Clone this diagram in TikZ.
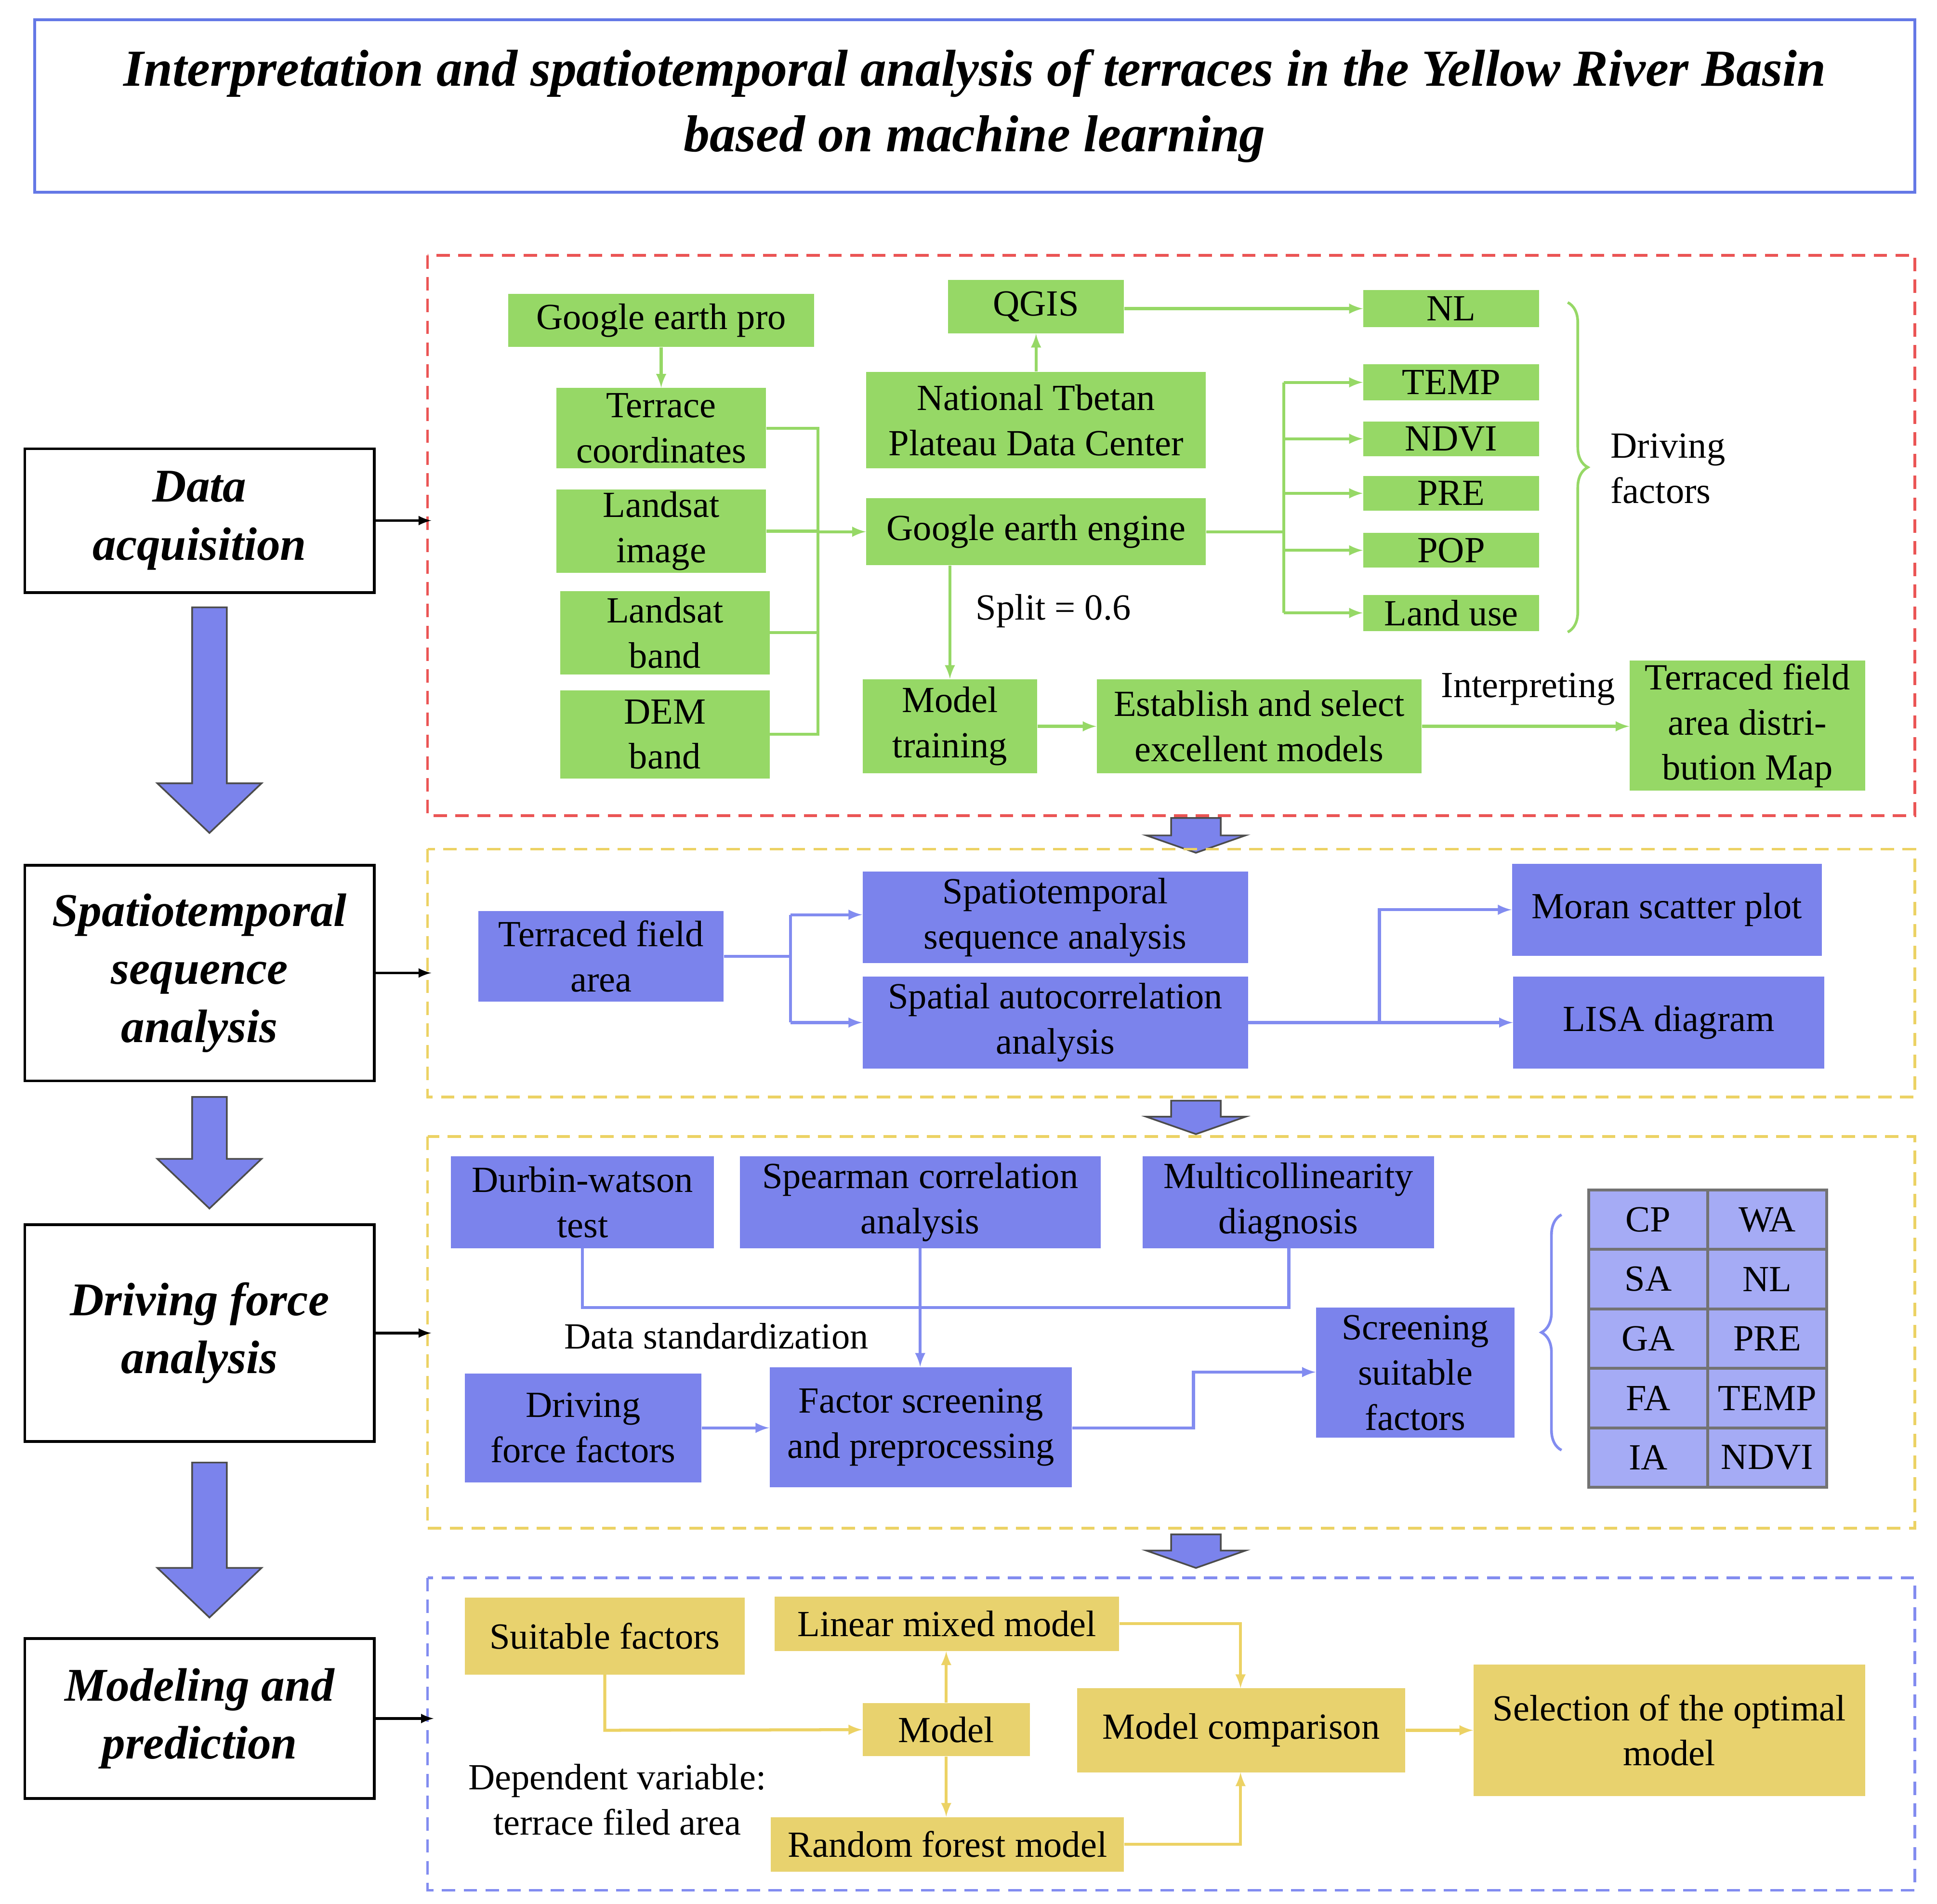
\documentclass[tikz,border=0pt]{standalone}
\usepackage{fontspec}
\setmainfont{Liberation Serif}
\usetikzlibrary{decorations.pathreplacing}
\definecolor{gf}{RGB}{150,216,102}
\definecolor{bf}{RGB}{123,131,236}
\definecolor{yf}{RGB}{232,210,110}
\definecolor{tf}{RGB}{165,171,245}
\definecolor{rd}{RGB}{235,85,85}
\definecolor{yd}{RGB}{236,210,100}
\definecolor{bd}{RGB}{130,140,240}
\definecolor{ttl}{RGB}{100,120,230}
\newcommand{\bx}[6]{\node[#1,minimum width={((#4)-(#2))*0.026cm},minimum height={((#5)-(#3))*0.026cm}] (#6) at ({((#2)+(#4))/2},{((#3)+(#5))/2})}
\tikzset{
 base/.style={inner sep=0pt,align=center,font=\fontsize{22}{27}\selectfont},
 gbx/.style={base,fill=gf},
 bbx/.style={base,fill=bf},
 ybx/.style={base,fill=yf},
 lb/.style={base,draw=black,line width=1.6pt,fill=white,font=\fontsize{28}{34.6}\selectfont\bfseries\itshape},
 gl/.style={draw=gf,line width=1.8pt,-latex},
 bl/.style={draw=bd,line width=1.8pt,-latex},
 yl/.style={draw=yd,line width=1.8pt,-latex},
 kl/.style={draw=black,line width=1.6pt,-latex},
 big/.style={fill=bf,draw=black!70,line width=1pt},
 reg/.style={dashed,line width=1.6pt,dash pattern=on 8pt off 5pt},
 txt/.style={base,inner sep=1pt},
 br/.style={decorate,decoration={brace,amplitude=12pt},line width=1.6pt},
}
\begin{document}
\begin{tikzpicture}[x=0.026cm,y=-0.026cm]
\useasboundingbox (0,0) rectangle (1563,1536);
% title
\bx{base,draw=ttl,line width=1.8pt,font=\fontsize{31}{39}\selectfont\bfseries\itshape}{28}{16}{1545}{155}{title}{Interpretation and spatiotemporal analysis of terraces in the Yellow River Basin\\based on machine learning};
% left boxes
\bx{lb}{20}{362}{302}{478}{da}{Data\\acquisition};
\bx{lb}{20}{698}{302}{872}{ssa}{Spatiotemporal\\sequence\\analysis};
\bx{lb}{20}{988}{302}{1163}{dfa}{Driving force\\analysis};
\bx{lb}{20}{1322}{302}{1451}{mp}{Modeling and\\prediction};
% big arrows
\foreach \a/\b in {490/672,885/975,1180/1305}{
 \draw[big] (155,\a) -- (183,\a) -- (183,\b-40) -- (211,\b-40) -- (169,\b) -- (127,\b-40) -- (155,\b-40) -- cycle;}
\foreach \a/\b in {660/688,888/915,1238/1265}{
 \draw[big] (945,\a) -- (985,\a) -- (985,\b-14) -- (1005,\b-14) -- (965,\b) -- (925,\b-14) -- (945,\b-14) -- cycle;}
% regions
\draw[reg,draw=rd] (345,206) rectangle (1545,658);
\draw[reg,draw=yd] (345,685) rectangle (1545,885);
\draw[reg,draw=yd] (345,917) rectangle (1545,1233);
\draw[reg,draw=bd] (345,1273) rectangle (1545,1525);
\coordinate (r1) at (348,420); \coordinate (r2) at (348,785);
\coordinate (r3) at (348,1075); \coordinate (r4) at (350,1387);
\draw[kl] (da.east) -- (da.east -| r1);
\draw[kl] (ssa.east) -- (ssa.east -| r2);
\draw[kl] (dfa.east) -- (dfa.east -| r3);
\draw[kl] (mp.east) -- (mp.east -| r4);
% section 1
\bx{gbx}{410}{237}{657}{280}{gep}{Google earth pro};
\bx{gbx}{449}{313}{618}{378}{tc}{Terrace\\coordinates};
\bx{gbx}{449}{395}{618}{462}{li}{Landsat\\image};
\bx{gbx}{452}{477}{621}{544}{lbd}{Landsat\\band};
\bx{gbx}{452}{557}{621}{628}{dem}{DEM\\band};
\bx{gbx}{765}{226}{907}{269}{qgis}{QGIS};
\bx{gbx}{699}{300}{973}{378}{ntp}{National Tbetan\\Plateau Data Center};
\bx{gbx}{699}{402}{973}{456}{gee}{Google earth engine};
\bx{gbx}{1100}{234}{1242}{264}{nl}{NL};
\bx{gbx}{1100}{294}{1242}{323}{temp}{TEMP};
\bx{gbx}{1100}{340}{1242}{368}{ndvi}{NDVI};
\bx{gbx}{1100}{384}{1242}{412}{pre}{PRE};
\bx{gbx}{1100}{430}{1242}{458}{pop}{POP};
\bx{gbx}{1100}{480}{1242}{509}{lu}{Land use};
\bx{gbx}{696}{548}{837}{624}{mt}{Model\\training};
\bx{gbx}{885}{548}{1147}{624}{est}{Establish and select\\excellent models};
\bx{gbx}{1315}{533}{1505}{638}{tfm}{Terraced field\\area distri-\\bution Map};
\node[txt] (split) at (850,493) {Split = 0.6};
\node[txt] (interp) at (1233,556) {Interpreting};
\node[txt,align=left,anchor=west] (df) at (1298,378) {Driving\\factors};
\draw[br,draw=gf] (1265,244) -- (1265,510);
\draw[gl] (gep.south -| tc.north) -- (tc.north);
\coordinate (bus1) at (660,0);
\draw[draw=gf,line width=1.8pt] (tc.east) -- (tc.east -| bus1) -- (dem.east -| bus1) -- (dem.east);
\draw[draw=gf,line width=1.8pt] (li.east) -- (li.east -| bus1);
\draw[draw=gf,line width=1.8pt] (lbd.east) -- (lbd.east -| bus1);
\draw[gl] (gee.west -| bus1) -- (gee.west);
\draw[gl] (ntp.north) -- (qgis.south);
\draw[gl] (qgis.east |- nl.west) -- (nl.west);
\coordinate (bus2) at (1036,0);
\draw[draw=gf,line width=1.8pt] (gee.east) -- (gee.east -| bus2);
\draw[draw=gf,line width=1.8pt] (temp.west -| bus2) -- (lu.west -| bus2);
\foreach \n in {temp,ndvi,pre,pop,lu} \draw[gl] (\n.west -| bus2) -- (\n.west);
\draw[gl] (gee.south -| mt.north) -- (mt.north);
\draw[gl] (mt.east) -- (est.west);
\draw[gl] (est.east) -- (est.east -| tfm.west);
% section 2
\bx{bbx}{386}{735}{584}{808}{tfa}{Terraced field\\area};
\bx{bbx}{696}{703}{1007}{777}{sts}{Spatiotemporal\\sequence analysis};
\bx{bbx}{696}{788}{1007}{862}{saa}{Spatial autocorrelation\\analysis};
\bx{bbx}{1220}{697}{1470}{771}{msp}{Moran scatter plot};
\bx{bbx}{1221}{788}{1472}{862}{lisa}{LISA diagram};
\coordinate (bus3) at (638,0);
\draw[draw=bd,line width=1.8pt] (tfa.east) -- (tfa.east -| bus3);
\draw[draw=bd,line width=1.8pt] (638,738) -- (638,825);
\draw[bl] (638,738) -- (sts.west |- 0,738);
\draw[bl] (638,825) -- (saa.west |- 0,825);
\draw[bl] (saa.east |- 0,825) -- (lisa.west |- 0,825);
\draw[bl] (1113,825) -- (1113,734) -- (msp.west |- 0,734);
% section 3
\bx{bbx}{364}{933}{576}{1007}{dw}{Durbin-watson\\test};
\bx{bbx}{597}{933}{888}{1007}{sca}{Spearman correlation\\analysis};
\bx{bbx}{922}{933}{1157}{1007}{mcd}{Multicollinearity\\diagnosis};
\bx{bbx}{375}{1108}{566}{1196}{dff}{Driving\\force factors};
\bx{bbx}{621}{1103}{865}{1200}{fsp}{Factor screening\\and preprocessing};
\bx{bbx}{1062}{1055}{1222}{1160}{ssf}{Screening\\suitable\\factors};
\node[txt] (dstd) at (578,1078) {Data standardization};
\draw[draw=bd,line width=1.8pt] (470,1007) -- (470,1055) -- (1040,1055) -- (1040,1007);
\draw[bl] (sca.south) -- (sca.south |- fsp.north);
\draw[bl] (dff.east |- 0,1152) -- (fsp.west |- 0,1152);
\draw[bl] (fsp.east |- 0,1152) -- (963,1152) -- (963,1107) -- (ssf.west |- 0,1107);
\foreach \l/\r [count=\i from 0] in {CP/WA,SA/NL,GA/PRE,FA/TEMP,IA/NDVI}{
 \bx{base,fill=tf,draw=black!55,line width=1.6pt}{1282}{960+48*\i}{1378}{1008+48*\i}{tl\i}{\l};
 \bx{base,fill=tf,draw=black!55,line width=1.6pt}{1378}{960+48*\i}{1474}{1008+48*\i}{tr\i}{\r};
}
\draw[br,draw=bd] (1260,1170) -- (1260,980);
% section 4
\bx{ybx}{375}{1289}{601}{1351}{suf}{Suitable factors};
\bx{ybx}{625}{1288}{903}{1332}{lmm}{Linear mixed model};
\bx{ybx}{696}{1374}{831}{1417}{mod}{Model};
\bx{ybx}{622}{1466}{907}{1510}{rfm}{Random forest model};
\bx{ybx}{869}{1362}{1134}{1430}{mc}{Model comparison};
\bx{ybx}{1189}{1343}{1505}{1449}{sel}{Selection of the optimal\\model};
\node[txt] (dv) at (498,1452) {Dependent variable:\\terrace filed area};
\draw[yl] (488,1351) -- (488,1396) -- (mod.west);
\draw[yl] (mod.north) -- (lmm.south -| mod.north);
\draw[yl] (mod.south) -- (rfm.north -| mod.south);
\draw[yl] (lmm.east) -- (1001,1310) -- (1001,1362);
\draw[yl] (rfm.east) -- (1001,1488) -- (1001,1430);
\draw[yl] (mc.east) -- (sel.west |- mc.east);
\end{tikzpicture}
\end{document}
